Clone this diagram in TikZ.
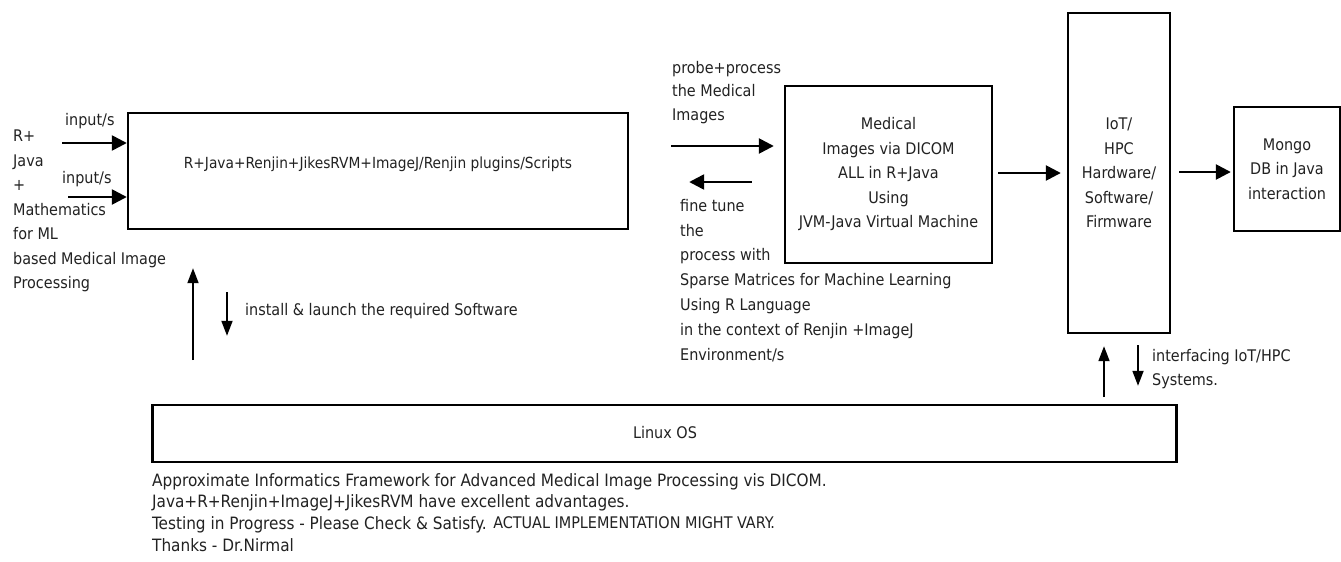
\documentclass[tikz,border=0pt]{standalone}
\usepackage{fontspec}
\setmainfont{DejaVu Sans Condensed}
\usetikzlibrary{arrows.meta,calc}
\definecolor{ink}{HTML}{222222}
\tikzset{
  box/.style={draw=black, line width=2.4pt, inner sep=0pt, align=center, text=ink},
  arr/.style={line width=2.5pt, -{Triangle[length=15pt,width=15pt]}},
  thin arr/.style={line width=1.8pt, -{Triangle[length=15pt,width=11pt]}},
  lbl/.style={inner sep=0pt, align=left, anchor=north west, text=ink},
  txt/.style={font=\fontsize{16}{24.5}\selectfont}
}
\begin{document}
\begin{tikzpicture}[x=1pt,y=-1pt,txt]
\useasboundingbox[fill=white] (0,0) rectangle (1341,562);
% boxes
\node[box, minimum width=500pt, minimum height=116pt] (main) at (378,171) {};
\node[text=ink, inner sep=0pt, font=\fontsize{15.3}{20}\selectfont] (maintxt) at (378,164) {R+Java+Renjin+JikesRVM+ImageJ/Renjin plugins/Scripts};
\node[box, minimum width=207pt, minimum height=177pt] (med) at (888.5,174.5)
  {Medical\\Images via DICOM\\ALL in R+Java\\Using\\JVM-Java Virtual Machine};
\node[box, minimum width=102pt, minimum height=320pt] (iot) at (1119,173)
  {IoT/\\HPC\\Hardware/\\Software/\\Firmware};
\node[box, minimum width=106pt, minimum height=124pt] (mongo) at (1287,169)
  {Mongo\\DB in Java\\interaction};
\node[box, minimum width=1024pt, minimum height=57pt] (linux) at (664.5,433.5) {};
\node[text=ink, inner sep=0pt] (linuxtxt) at (665,433) {Linux OS};
% left text and inputs
\node[lbl] (lefttxt) at (13,130) {R+\\Java\\+\\Mathematics\\for ML\\based Medical Image\\Processing};
\coordinate (in1) at (62,143);
\coordinate (in2) at (68,197);
\draw[arr] (in1) -- (in1 -| main.west);
\draw[arr] (in2) -- (in2 -| main.west);
\node[lbl] (inl1) at (65,113) {input/s};
\node[lbl] (inl2) at (62,171) {input/s};
% main <-> med
\draw[arr, shorten <=42pt, shorten >=10pt] ([yshift=25pt]main.east) -- ([yshift=25pt]main.east -| med.west);
\draw[arr, shorten <=32pt, shorten >=60pt] ([yshift=-11pt]main.east -| med.west) -- ([yshift=-11pt]main.east);
\node[lbl, font=\fontsize{16}{23.5}\selectfont] (probe) at (672,61) {probe+process\\the Medical\\Images};
\node[lbl, font=\fontsize{16}{24.8}\selectfont] (fine) at (680,199) {fine tune\\the\\process with\\Sparse Matrices for Machine Learning\\Using R Language\\in the context of Renjin +ImageJ\\Environment/s};
% med -> iot -> mongo
\draw[arr, shorten <=5pt, shorten >=6pt] ([yshift=1.5pt]med.east) -- ([yshift=1.5pt]med.east -| iot.west);
\draw[arr, shorten <=8pt, shorten >=2pt] ([yshift=1pt]iot.east) -- ([yshift=1pt]iot.east -| mongo.west);
% linux <-> main
\coordinate (ua) at (193,405);
\coordinate (da) at (227,229);
\draw[thin arr, shorten <=45pt, shorten >=38pt] (ua) -- (ua |- main.south);
\draw[thin arr, shorten <=63pt, shorten >=68pt] (da) -- (da |- linux.north);
\node[lbl] (install) at (245,303) {install \& launch the required Software};
% linux <-> iot
\coordinate (ub) at (1104,405);
\coordinate (db) at (1138,333);
\draw[thin arr, shorten <=8pt, shorten >=12pt] (ub) -- (ub |- iot.south);
\draw[thin arr, shorten <=12pt, shorten >=18pt] (db) -- (db |- linux.north);
\node[lbl, font=\fontsize{16}{24}\selectfont] (iface) at (1152,349) {interfacing IoT/HPC\\Systems.};
% bottom notes
\node[lbl, font=\fontsize{17}{21.8}\selectfont] (notes) at (152,473) {Approximate Informatics Framework for Advanced Medical Image Processing vis DICOM.\\Java+R+Renjin+ImageJ+JikesRVM have excellent advantages.\\Testing in Progress - Please Check \& Satisfy. {\fontsize{16}{20}\selectfont\raisebox{1.5pt}{ACTUAL IMPLEMENTATION MIGHT VARY.}}\\Thanks - Dr.Nirmal};
\end{tikzpicture}
\end{document}
